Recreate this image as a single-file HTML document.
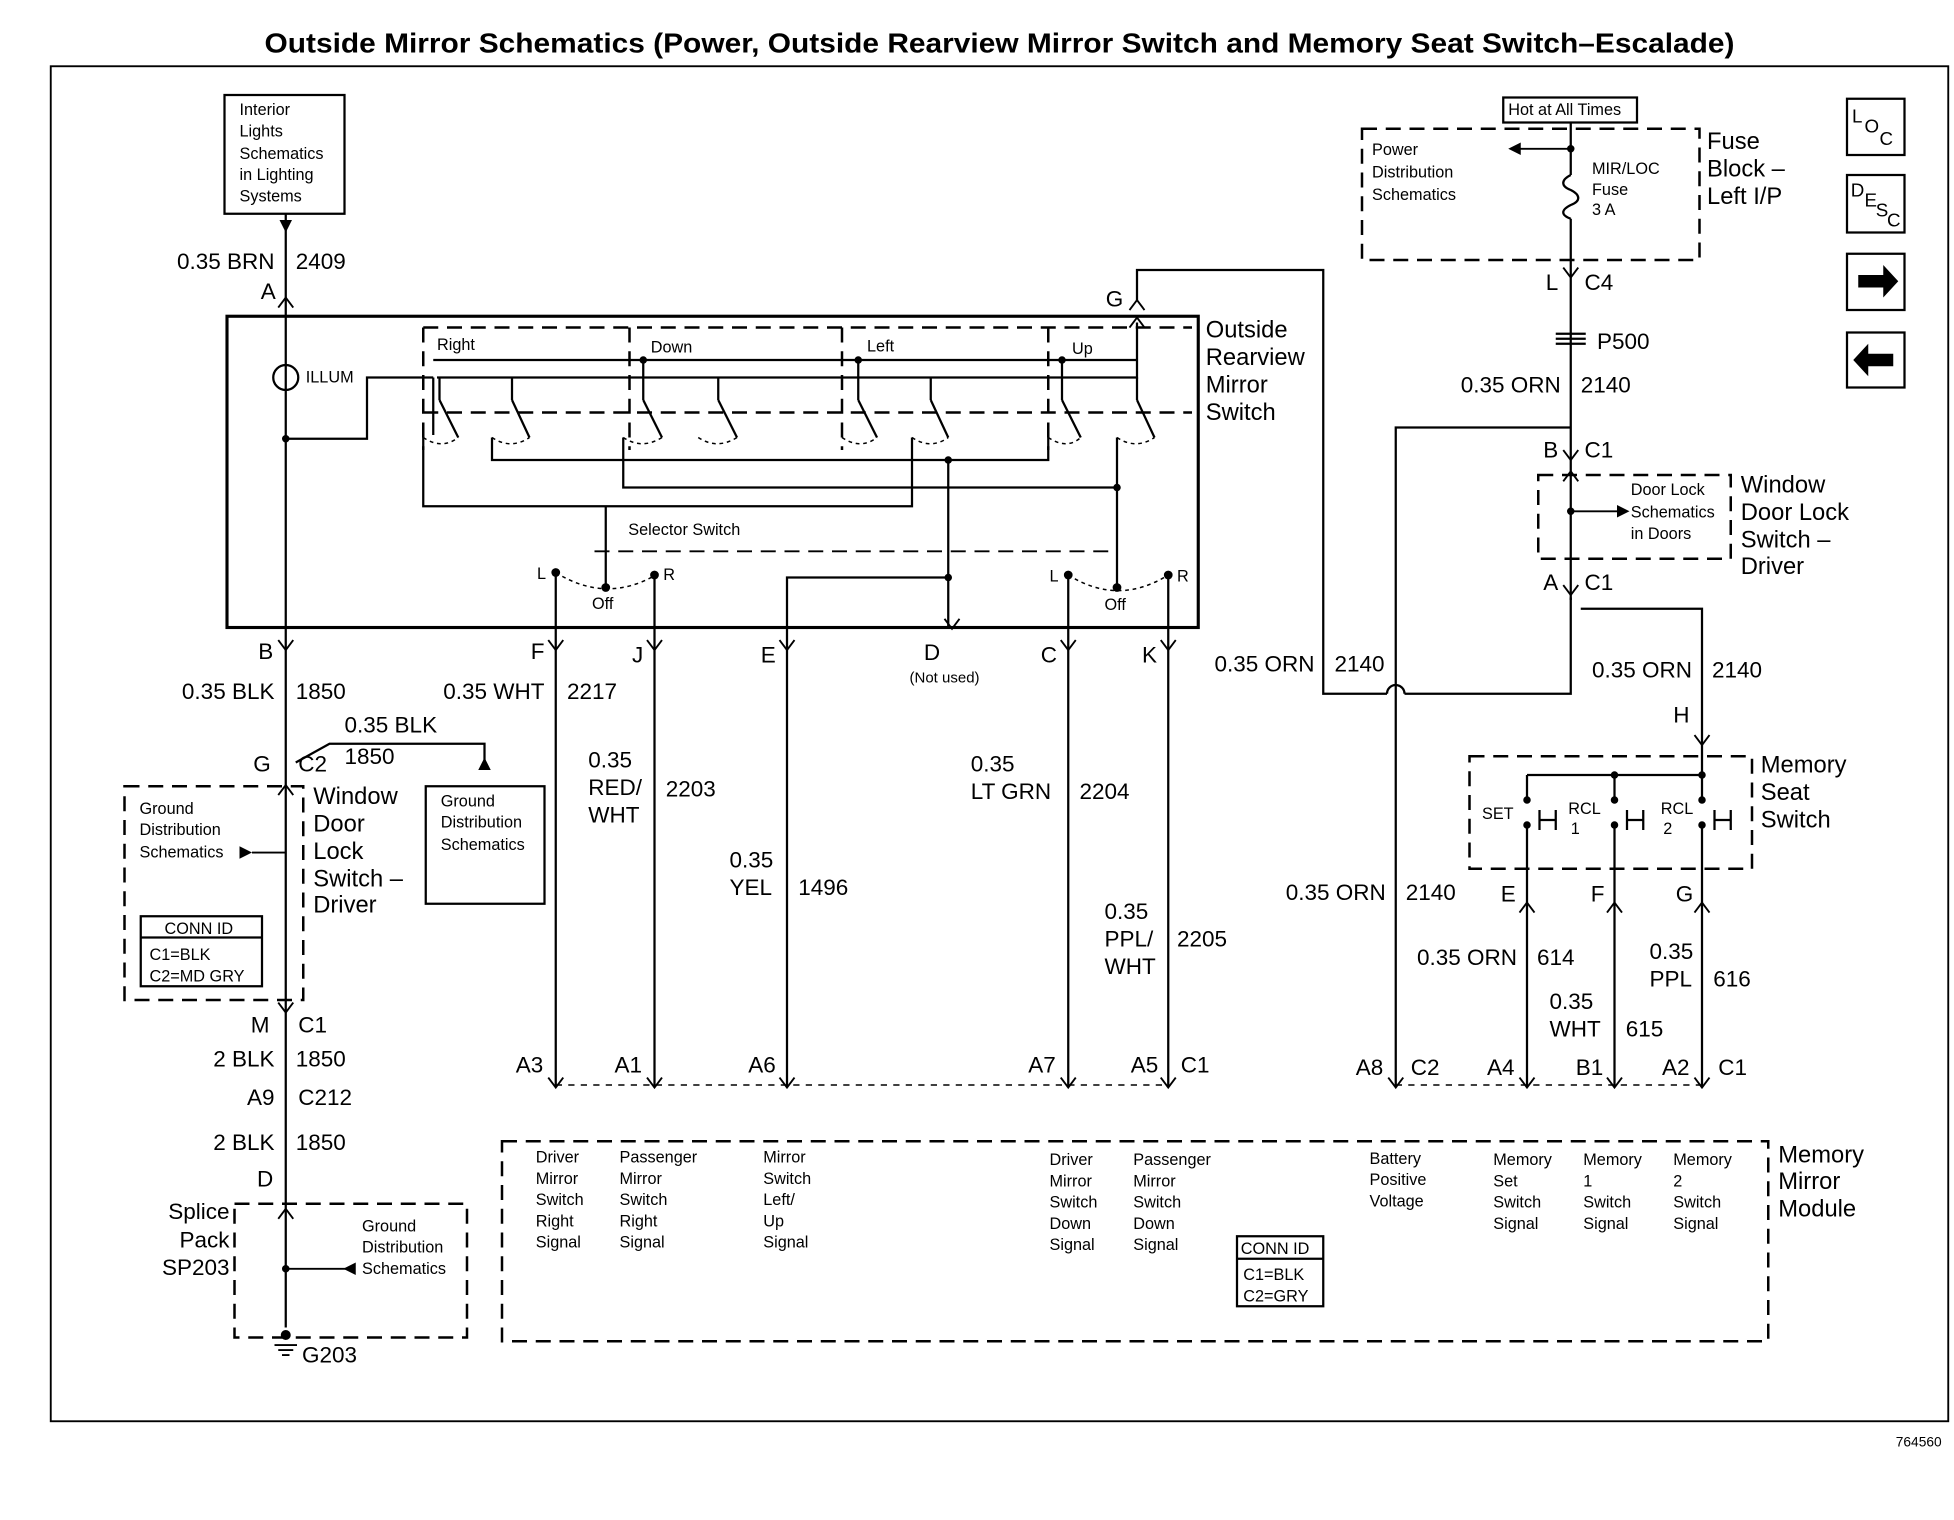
<!DOCTYPE html>
<html><head><meta charset="utf-8"><style>
html,body{margin:0;padding:0;background:#fff;}
svg{display:block;}
text{font-family:"Liberation Sans",sans-serif;fill:#000;}
.s{font-size:13px;}
.m{font-size:18px;}
.l{font-size:19px;}
</style></head><body>
<svg width="1954" height="1520" viewBox="0 0 1560 1216" xmlns="http://www.w3.org/2000/svg">
<rect width="1560" height="1216" fill="#fff"/>
<text x="210" y="42" textLength="1176" lengthAdjust="spacingAndGlyphs" style="font-size:22px;font-weight:bold">Outside Mirror Schematics (Power, Outside Rearview Mirror Switch and Memory Seat Switch–Escalade)</text>
<rect x="39" y="53" width="1518" height="1084" fill="none" stroke="#000" stroke-width="1.5"/>
<text x="1515" y="1157" class="s" style="font-size:11px">764560</text>

<g fill="none" stroke="#000" stroke-width="1.8">
<rect x="178" y="76" width="96" height="95"/>
<line x1="227" y1="171" x2="227" y2="1062"/>
<rect x="180" y="253" width="777" height="249" stroke-width="2.5"/>
<circle cx="227" cy="302" r="10"/>
<path d="M227,351 H292 V302 H345 M345,302 V348 M408,302 V320"/>
<path d="M348,302 H908 V258"/>
<path d="M345,288 H908"/>
<path d="M513,288 V320 M685,288 V320 M848,288 V320 M573,302 V320 M743,302 V320 M908,302 V320 M350,302 V320"/>
<path d="M350,320 L365,350 M408,320 L422,350 M513,320 L528,350 M573,320 L588,350 M685,320 L700,350 M743,320 L757,350 M848,320 L863,350 M908,320 L922,350"/>
<path d="M337,350 V405 H728 V350"/>
<path d="M392,350 V368 H837 V350"/>
<path d="M497,350 V390 H892 V350"/>
<path d="M757,368 V502 M628,520 V462 H757"/>
<path d="M483,405 V470"/>
<path d="M892,390 V470"/>
<path d="M443,458 V870 M522,460 V870 M853,460 V870 M933,460 V870 M628,520 V870"/>
<path d="M908,240 V216 H1057 V555 H1108 M1122,555 H1255 V478"/>
<path d="M1108,555 a7,7 0 0 1 14,0"/>
<path d="M1115,870 V342 H1255"/>
<path d="M1255,98 V140 M1255,175 V480"/>
<path d="M1255,140 c-8,4 -8,9 0,12 c8,4 8,9 0,12 c-8,4 -8,8 0,11"/>
<path d="M1263,487 H1360 V620 M1220,620 H1360 M1220,620 V640 M1290,620 V640 M1360,620 V640 M1220,660 V870 M1290,660 V870 M1360,660 V870"/>
<path d="M1230,648 V664 M1230,656 H1243 V648 V664 M1300,648 V664 M1300,656 H1313 M1313,648 V664 M1370,648 V664 M1370,656 H1383 M1383,648 V664"/>
<path d="M235,610 L262,595 H386 V608"/>
<rect x="339" y="629" width="95" height="94"/>
<rect x="111" y="733" width="97" height="56"/>
<line x1="111" y1="750" x2="208" y2="750"/>
<rect x="988" y="989" width="69" height="56"/>
<line x1="988" y1="1007" x2="1057" y2="1007"/>
<rect x="1201" y="78" width="107" height="20"/>
<path d="M1243,267 H1267 M1243,271 H1267 M1243,275 H1267"/>
<rect x="1476" y="79" width="46" height="45"/>
<rect x="1476" y="140" width="46" height="46"/>
<rect x="1476" y="203" width="46" height="45"/>
<rect x="1476" y="266" width="46" height="44"/>
</g>
<path d="M1485,220 h20 v-8 l12,13 l-12,13 v-8 h-20z M1513,283 h-20 v-8 l-12,13 l12,13 v-8 h20z" fill="#000"/>

<g fill="none" stroke="#000" stroke-width="2" stroke-dasharray="12,7">
<path d="M337,262 V360 M502,262 V360 M672,262 V360 M837,262 V360 M337,262 H952 M337,330 H952"/>
<path d="M474,441 H890" stroke-width="1.5"/>
<rect x="98" y="629" width="143" height="171"/>
<rect x="186" y="963" width="186" height="107"/>
<rect x="400" y="913" width="1013" height="160"/>
<rect x="1088" y="103" width="270" height="105"/>
<rect x="1229" y="380" width="154" height="67"/>
<rect x="1174" y="605" width="226" height="90"/>
<path d="M443,868 H933 M1115,868 H1360" stroke-width="1.2" stroke-dasharray="5,5"/>
</g>
<g fill="none" stroke="#000" stroke-width="1.2" stroke-dasharray="3,3">
<path d="M337,350 q15,10 28,0 M392,350 q15,10 30,0 M497,350 q15,10 31,0 M557,350 q15,10 31,0 M672,350 q15,10 28,0 M728,350 q15,10 29,0 M837,350 q15,10 26,0 M892,350 q15,10 30,0"/>
<path d="M443,458 q40,25 80,2 M853,460 q40,25 80,0"/>
</g>
<g fill="#000">
<circle cx="227" cy="351" r="3"/><circle cx="513" cy="288" r="3"/><circle cx="685" cy="288" r="3"/><circle cx="848" cy="288" r="3"/>
<circle cx="443" cy="458" r="3.5"/><circle cx="522" cy="460" r="3.5"/><circle cx="483" cy="470" r="3.5"/>
<circle cx="853" cy="460" r="3.5"/><circle cx="933" cy="460" r="3.5"/><circle cx="892" cy="470" r="3.5"/>
<circle cx="757" cy="462" r="3"/><circle cx="757" cy="368" r="3"/><circle cx="892" cy="390" r="3"/>
<circle cx="1255" cy="119" r="3"/><circle cx="1255" cy="409" r="3"/><circle cx="227" cy="1015" r="3"/><circle cx="227" cy="1068" r="4"/>
<circle cx="1290" cy="620" r="3"/><circle cx="1360" cy="620" r="3"/>
<circle cx="1220" cy="640" r="3"/><circle cx="1290" cy="640" r="3"/><circle cx="1360" cy="640" r="3"/>
<circle cx="1220" cy="660" r="3"/><circle cx="1290" cy="660" r="3"/><circle cx="1360" cy="660" r="3"/>
<path d="M222,176 h10 l-5,10z M381,616 h10 l-5,-10z M190,677 l10,5 l-10,5z M283,1010 l-10,5 l10,5z M1215,114 l-10,5 l10,5z M1292,404 l10,5 l-10,5z"/>
</g>
<path d="M1255,119 H1212 M200,682 H227 M227,1015 H275 M1255,409 H1294" stroke="#000" stroke-width="1.5"/>
<path d="M218,1076 h18 M221,1080 h12 M224,1084 h6" stroke="#000" stroke-width="1.5"/>
<g fill="none" stroke="#000" stroke-width="1.5">
<path d="M221,246 l6,-8 l6,8 M902,248 l6,-8 l6,8"/>
<path d="M221,512 l6,8 l6,-8 M437,512 l6,8 l6,-8 M516,512 l6,8 l6,-8 M622,512 l6,8 l6,-8 M847,512 l6,8 l6,-8 M927,512 l6,8 l6,-8 M754,495 l6,8 l6,-8"/>
<path d="M221,636 l6,-8 l6,8 M221,802 l6,8 l6,-8 M221,975 l6,-8 l6,8 M1249,214 l6,8 l6,-8 M1249,360 l6,8 l6,-8 M1249,385 l6,-8 l6,8 M1249,468 l6,8 l6,-8 M1354,588 l6,8 l6,-8"/>
<path d="M1214,730 l6,-8 l6,8 M1284,730 l6,-8 l6,8 M1354,730 l6,-8 l6,8"/>
<path d="M437,862 l6,8 l6,-8 M516,862 l6,8 l6,-8 M622,862 l6,8 l6,-8 M847,862 l6,8 l6,-8 M927,862 l6,8 l6,-8 M1109,862 l6,8 l6,-8 M1214,862 l6,8 l6,-8 M1284,862 l6,8 l6,-8 M1354,862 l6,8 l6,-8"/>
<path d="M902,262 l6,-8 l6,8"/>
</g>

<g class="s">
<text x="190" y="92">Interior</text><text x="190" y="109">Lights</text><text x="190" y="127">Schematics</text><text x="190" y="144">in Lighting</text><text x="190" y="161">Systems</text>
<text x="243" y="306">ILLUM</text>
<text x="348" y="280">Right</text><text x="519" y="282">Down</text><text x="692" y="281">Left</text><text x="856" y="283">Up</text>
<text x="501" y="428">Selector Switch</text>
<text x="428" y="463">L</text><text x="529" y="464">R</text><text x="472" y="487">Off</text>
<text x="838" y="465">L</text><text x="940" y="465">R</text><text x="882" y="488">Off</text>
<text x="726" y="546" style="font-size:12px">(Not used)</text>
<text x="351" y="645">Ground</text><text x="351" y="662">Distribution</text><text x="351" y="680">Schematics</text>
<text x="110" y="651">Ground</text><text x="110" y="668">Distribution</text><text x="110" y="686">Schematics</text>
<text x="130" y="747">CONN ID</text><text x="118" y="768">C1=BLK</text><text x="118" y="785">C2=MD GRY</text>
<text x="288" y="985">Ground</text><text x="288" y="1002">Distribution</text><text x="288" y="1019">Schematics</text>
<text x="427" y="930">Driver</text><text x="427" y="947">Mirror</text><text x="427" y="964">Switch</text><text x="427" y="981">Right</text><text x="427" y="998">Signal</text>
<text x="494" y="930">Passenger</text><text x="494" y="947">Mirror</text><text x="494" y="964">Switch</text><text x="494" y="981">Right</text><text x="494" y="998">Signal</text>
<text x="609" y="930">Mirror</text><text x="609" y="947">Switch</text><text x="609" y="964">Left/</text><text x="609" y="981">Up</text><text x="609" y="998">Signal</text>
<text x="838" y="932">Driver</text><text x="838" y="949">Mirror</text><text x="838" y="966">Switch</text><text x="838" y="983">Down</text><text x="838" y="1000">Signal</text>
<text x="905" y="932">Passenger</text><text x="905" y="949">Mirror</text><text x="905" y="966">Switch</text><text x="905" y="983">Down</text><text x="905" y="1000">Signal</text>
<text x="1094" y="931">Battery</text><text x="1094" y="948">Positive</text><text x="1094" y="965">Voltage</text>
<text x="1193" y="932">Memory</text><text x="1193" y="949">Set</text><text x="1193" y="966">Switch</text><text x="1193" y="983">Signal</text>
<text x="1265" y="932">Memory</text><text x="1265" y="949">1</text><text x="1265" y="966">Switch</text><text x="1265" y="983">Signal</text>
<text x="1337" y="932">Memory</text><text x="1337" y="949">2</text><text x="1337" y="966">Switch</text><text x="1337" y="983">Signal</text>
<text x="991" y="1003">CONN ID</text><text x="993" y="1024">C1=BLK</text><text x="993" y="1041">C2=GRY</text>
<text x="1205" y="92">Hot at All Times</text>
<text x="1096" y="124">Power</text><text x="1096" y="142">Distribution</text><text x="1096" y="160">Schematics</text>
<text x="1272" y="139">MIR/LOC</text><text x="1272" y="156">Fuse</text><text x="1272" y="172">3 A</text>
<text x="1303" y="396">Door Lock</text><text x="1303" y="414">Schematics</text><text x="1303" y="431">in Doors</text>
<text x="1184" y="655">SET</text><text x="1253" y="651">RCL</text><text x="1255" y="667">1</text><text x="1327" y="651">RCL</text><text x="1329" y="667">2</text>
</g>
<g class="m">
<text x="218" y="215" text-anchor="end">0.35 BRN</text><text x="235" y="215">2409</text>
<text x="219" y="239" text-anchor="end">A</text><text x="897" y="245" text-anchor="end">G</text>
<text x="217" y="527" text-anchor="end">B</text><text x="434" y="527" text-anchor="end">F</text><text x="513" y="530" text-anchor="end">J</text><text x="619" y="530" text-anchor="end">E</text><text x="744" y="528" text-anchor="middle">D</text><text x="844" y="530" text-anchor="end">C</text><text x="924" y="530" text-anchor="end">K</text>
<text x="218" y="559" text-anchor="end">0.35 BLK</text><text x="235" y="559">1850</text>
<text x="434" y="559" text-anchor="end">0.35 WHT</text><text x="452" y="559">2217</text>
<text x="274" y="586">0.35 BLK</text><text x="274" y="611">1850</text>
<text x="215" y="617" text-anchor="end">G</text><text x="237" y="617">C2</text>
<text x="469" y="614">0.35</text><text x="469" y="636">RED/</text><text x="469" y="658">WHT</text><text x="531" y="637">2203</text>
<text x="582" y="694">0.35</text><text x="582" y="716">YEL</text><text x="637" y="716">1496</text>
<text x="775" y="617">0.35</text><text x="775" y="639">LT GRN</text><text x="862" y="639">2204</text>
<text x="882" y="735">0.35</text><text x="882" y="757">PPL/</text><text x="882" y="779">WHT</text><text x="940" y="757">2205</text>
<text x="214" y="826" text-anchor="end">M</text><text x="237" y="826">C1</text>
<text x="218" y="853" text-anchor="end">2 BLK</text><text x="235" y="853">1850</text>
<text x="218" y="884" text-anchor="end">A9</text><text x="237" y="884">C212</text>
<text x="218" y="920" text-anchor="end">2 BLK</text><text x="235" y="920">1850</text>
<text x="217" y="949" text-anchor="end">D</text>
<text x="182" y="975" text-anchor="end">Splice</text><text x="182" y="998" text-anchor="end">Pack</text><text x="182" y="1020" text-anchor="end">SP203</text>
<text x="240" y="1090">G203</text>
<text x="433" y="858" text-anchor="end">A3</text><text x="512" y="858" text-anchor="end">A1</text><text x="619" y="858" text-anchor="end">A6</text><text x="843" y="858" text-anchor="end">A7</text><text x="925" y="858" text-anchor="end">A5</text><text x="943" y="858">C1</text>
<text x="1105" y="860" text-anchor="end">A8</text><text x="1127" y="860">C2</text><text x="1210" y="860" text-anchor="end">A4</text><text x="1281" y="860" text-anchor="end">B1</text><text x="1350" y="860" text-anchor="end">A2</text><text x="1373" y="860">C1</text>
<text x="1050" y="537" text-anchor="end">0.35 ORN</text><text x="1066" y="537">2140</text>
<text x="1247" y="314" text-anchor="end">0.35 ORN</text><text x="1263" y="314">2140</text>
<text x="1245" y="232" text-anchor="end">L</text><text x="1266" y="232">C4</text>
<text x="1276" y="279">P500</text>
<text x="1245" y="366" text-anchor="end">B</text><text x="1266" y="366">C1</text>
<text x="1245" y="472" text-anchor="end">A</text><text x="1266" y="472">C1</text>
<text x="1352" y="542" text-anchor="end">0.35 ORN</text><text x="1368" y="542">2140</text>
<text x="1350" y="578" text-anchor="end">H</text>
<text x="1107" y="720" text-anchor="end">0.35 ORN</text><text x="1123" y="720">2140</text>
<text x="1211" y="721" text-anchor="end">E</text><text x="1282" y="721" text-anchor="end">F</text><text x="1353" y="721" text-anchor="end">G</text>
<text x="1212" y="772" text-anchor="end">0.35 ORN</text><text x="1228" y="772">614</text>
<text x="1238" y="807">0.35</text><text x="1238" y="829">WHT</text><text x="1299" y="829">615</text>
<text x="1318" y="767">0.35</text><text x="1318" y="789">PPL</text><text x="1369" y="789">616</text>
</g>
<g class="l">
<text x="249" y="643">Window</text><text x="249" y="665">Door</text><text x="249" y="687">Lock</text><text x="249" y="709">Switch –</text><text x="249" y="730">Driver</text>
<text x="963" y="270">Outside</text><text x="963" y="292">Rearview</text><text x="963" y="314">Mirror</text><text x="963" y="336">Switch</text>
<text x="1364" y="119">Fuse</text><text x="1364" y="141">Block –</text><text x="1364" y="163">Left I/P</text>
<text x="1391" y="394">Window</text><text x="1391" y="416">Door Lock</text><text x="1391" y="438">Switch –</text><text x="1391" y="459">Driver</text>
<text x="1407" y="618">Memory</text><text x="1407" y="640">Seat</text><text x="1407" y="662">Switch</text>
<text x="1421" y="930">Memory</text><text x="1421" y="951">Mirror</text><text x="1421" y="973">Module</text>
</g>
<g style="font-size:15px"><text x="1480" y="98">L</text><text x="1490" y="106">O</text><text x="1502" y="116">C</text>
<text x="1479" y="157">D</text><text x="1490" y="165">E</text><text x="1499" y="173">S</text><text x="1508" y="181">C</text></g>
</svg>
</body></html>
